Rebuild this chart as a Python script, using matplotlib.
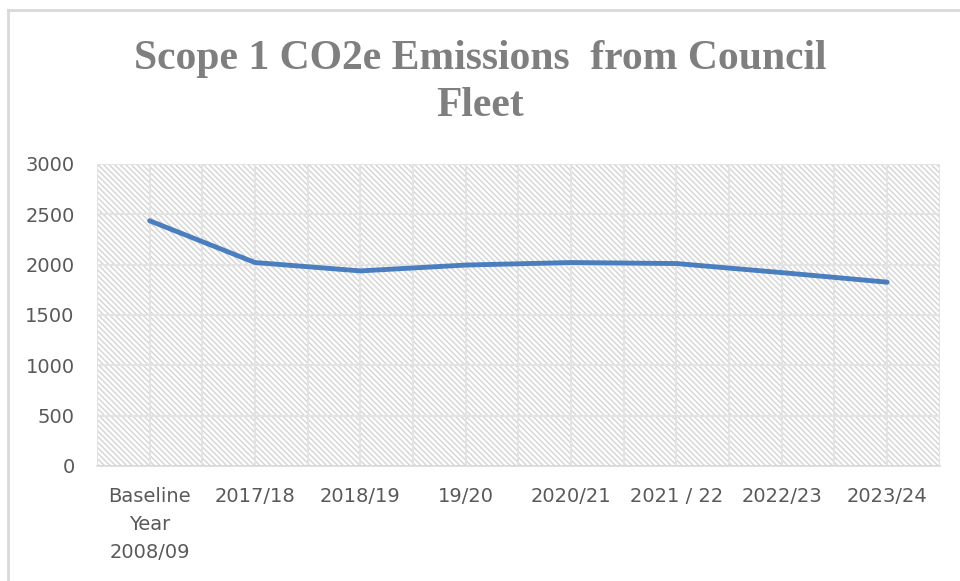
import matplotlib
matplotlib.use("Agg")
import matplotlib.pyplot as plt
import numpy as np
from matplotlib.patches import Rectangle
from matplotlib.lines import Line2D

categories = ["Baseline\nYear\n2008/09", "2017/18", "2018/19", "19/20", "2020/21", "2021 / 22", "2022/23", "2023/24"]
emissions = [2435, 2020, 1937, 1995, 2020, 2010, 1920, 1825]
y_ticks = [0, 500, 1000, 1500, 2000, 2500, 3000]
title = "Scope 1 CO2e Emissions  from Council\nFleet"

plt.rcParams['hatch.color'] = '#d4d4d4'
plt.rcParams['hatch.linewidth'] = 1.0

fig = plt.figure(figsize=(9.6, 5.81), dpi=100)
ax = fig.add_axes([0.101, 0.198, 0.878, 0.520])

x = np.arange(len(categories))
ax.set_xlim(-0.5, len(categories) - 0.5)
ax.set_ylim(0, 3000)

# hatched background
ax.add_patch(Rectangle((0, 0), 1, 1, transform=ax.transAxes, facecolor='white',
                       edgecolor='#d4d4d4', hatch='\\\\\\\\\\\\', linewidth=0, zorder=0))

# gridlines
ax.set_yticks(y_ticks)
ax.set_xticks(x)
ax.set_xticks(np.arange(-0.5, len(categories), 1.0), minor=True)
ax.grid(True, which='both', color='#e3e3e3', linewidth=1.5, zorder=1)
ax.set_axisbelow(True)

ax.plot(x, emissions, color='#4a7ebf', linewidth=3.5, solid_capstyle='round',
        solid_joinstyle='round', zorder=3)

for s in ['top', 'right', 'left']:
    ax.spines[s].set_visible(False)
ax.spines['bottom'].set_color('#d9d9d9')
ax.spines['bottom'].set_linewidth(1.2)

ax.tick_params(axis='both', which='both', length=0, colors='#595959', labelsize=14)
ax.tick_params(axis='x', pad=15)
ax.tick_params(axis='y', pad=16)
ax.set_xticklabels(categories, linespacing=1.6)

fig.text(0.5, 0.858, title, ha='center', va='center', fontsize=30, fontweight='bold',
         color='#7f7f7f', family='Liberation Serif', linespacing=1.3)

# outer border (left and top edges visible)
W, H = 960, 581
fig.add_artist(Line2D([8 / W, 8 / W], [0, 1 - 10 / H], transform=fig.transFigure,
                      color='#d9d9d9', linewidth=2))
fig.add_artist(Line2D([8 / W, 1], [1 - 10 / H, 1 - 10 / H], transform=fig.transFigure,
                      color='#d9d9d9', linewidth=2))

fig.savefig("out.png", dpi=100)
